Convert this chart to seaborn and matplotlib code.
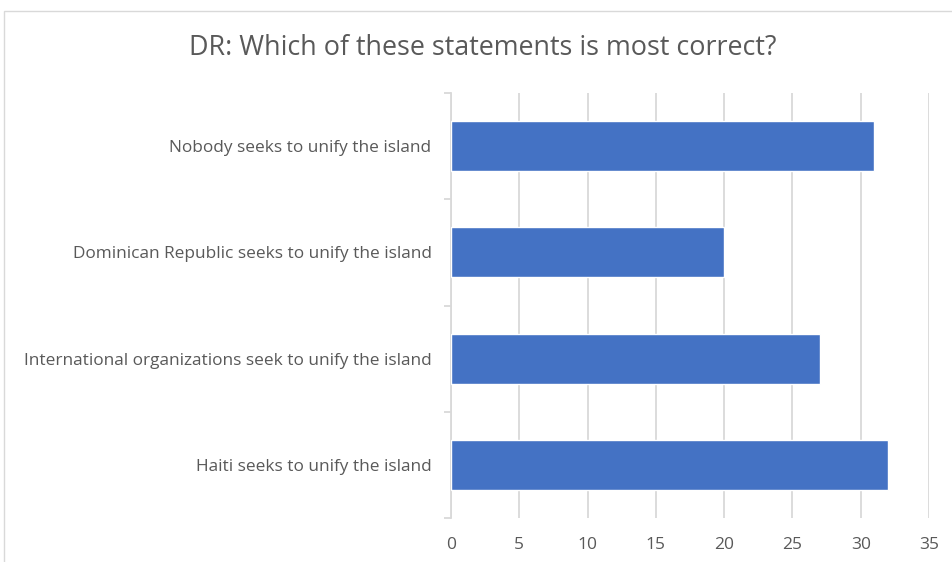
import matplotlib
matplotlib.use("Agg")
import matplotlib.pyplot as plt
from matplotlib.patches import Rectangle
from matplotlib.ticker import FixedLocator
import seaborn as sns
import pandas as pd

statements = [
    "Nobody seeks to unify the island",
    "Dominican Republic seeks to unify the island",
    "International organizations seek to unify the island",
    "Haiti seeks to unify the island",
]
responses = [31, 20, 27, 32]
x_ticks = [0, 5, 10, 15, 20, 25, 30, 35]
title = "DR: Which of these statements is most correct?"

df = pd.DataFrame({"statement": statements, "responses": responses})

sns.set_theme(style="white")
plt.rcParams["font.family"] = ["Open Sans", "DejaVu Sans"]

text_color = "#595959"
grid_color = "#D9D9D9"
bar_color = "#4472C4"

fig = plt.figure(figsize=(9.53, 5.62), dpi=100)
ax = fig.add_axes([451 / 953, 1 - 518 / 562, 478 / 953, 425 / 562])

# outer chart frame
fig.patches.append(Rectangle((4 / 953, -0.05), 1.05, 1 - 11 / 562 + 0.05,
                             transform=fig.transFigure, fill=False,
                             edgecolor="#D9D9D9", linewidth=1.0))

sns.barplot(data=df, x="responses", y="statement", order=statements,
            color=bar_color, saturation=1, width=0.47,
            edgecolor="white", linewidth=1.0, ax=ax, zorder=3)

ax.set_xlim(0, 35)
ax.set_ylim(3.5, -0.5)
ax.set_xticks(x_ticks)
ax.set_xticklabels([str(t) for t in x_ticks])
ax.xaxis.grid(True, color=grid_color, linewidth=1.3, zorder=0)
ax.set_axisbelow(True)

ax.set_xlabel("")
ax.set_ylabel("")

for side in ["top", "right", "bottom"]:
    ax.spines[side].set_visible(False)
ax.spines["left"].set_color(grid_color)
ax.spines["left"].set_linewidth(1.3)

ax.tick_params(axis="x", length=0, pad=14, labelsize=12.5, labelcolor=text_color)
ax.tick_params(axis="y", which="major", length=0, pad=14, labelsize=12.4, labelcolor=text_color)
ax.yaxis.set_minor_locator(FixedLocator([-0.5, 0.5, 1.5, 2.5, 3.5]))
ax.tick_params(axis="y", which="minor", length=5, width=1.3, color=grid_color, left=True)

fig.text(483 / 953, 1 - 48 / 562, title, ha="center", va="center",
         fontsize=19.4, color=text_color)

fig.savefig("out.png", dpi=100)
